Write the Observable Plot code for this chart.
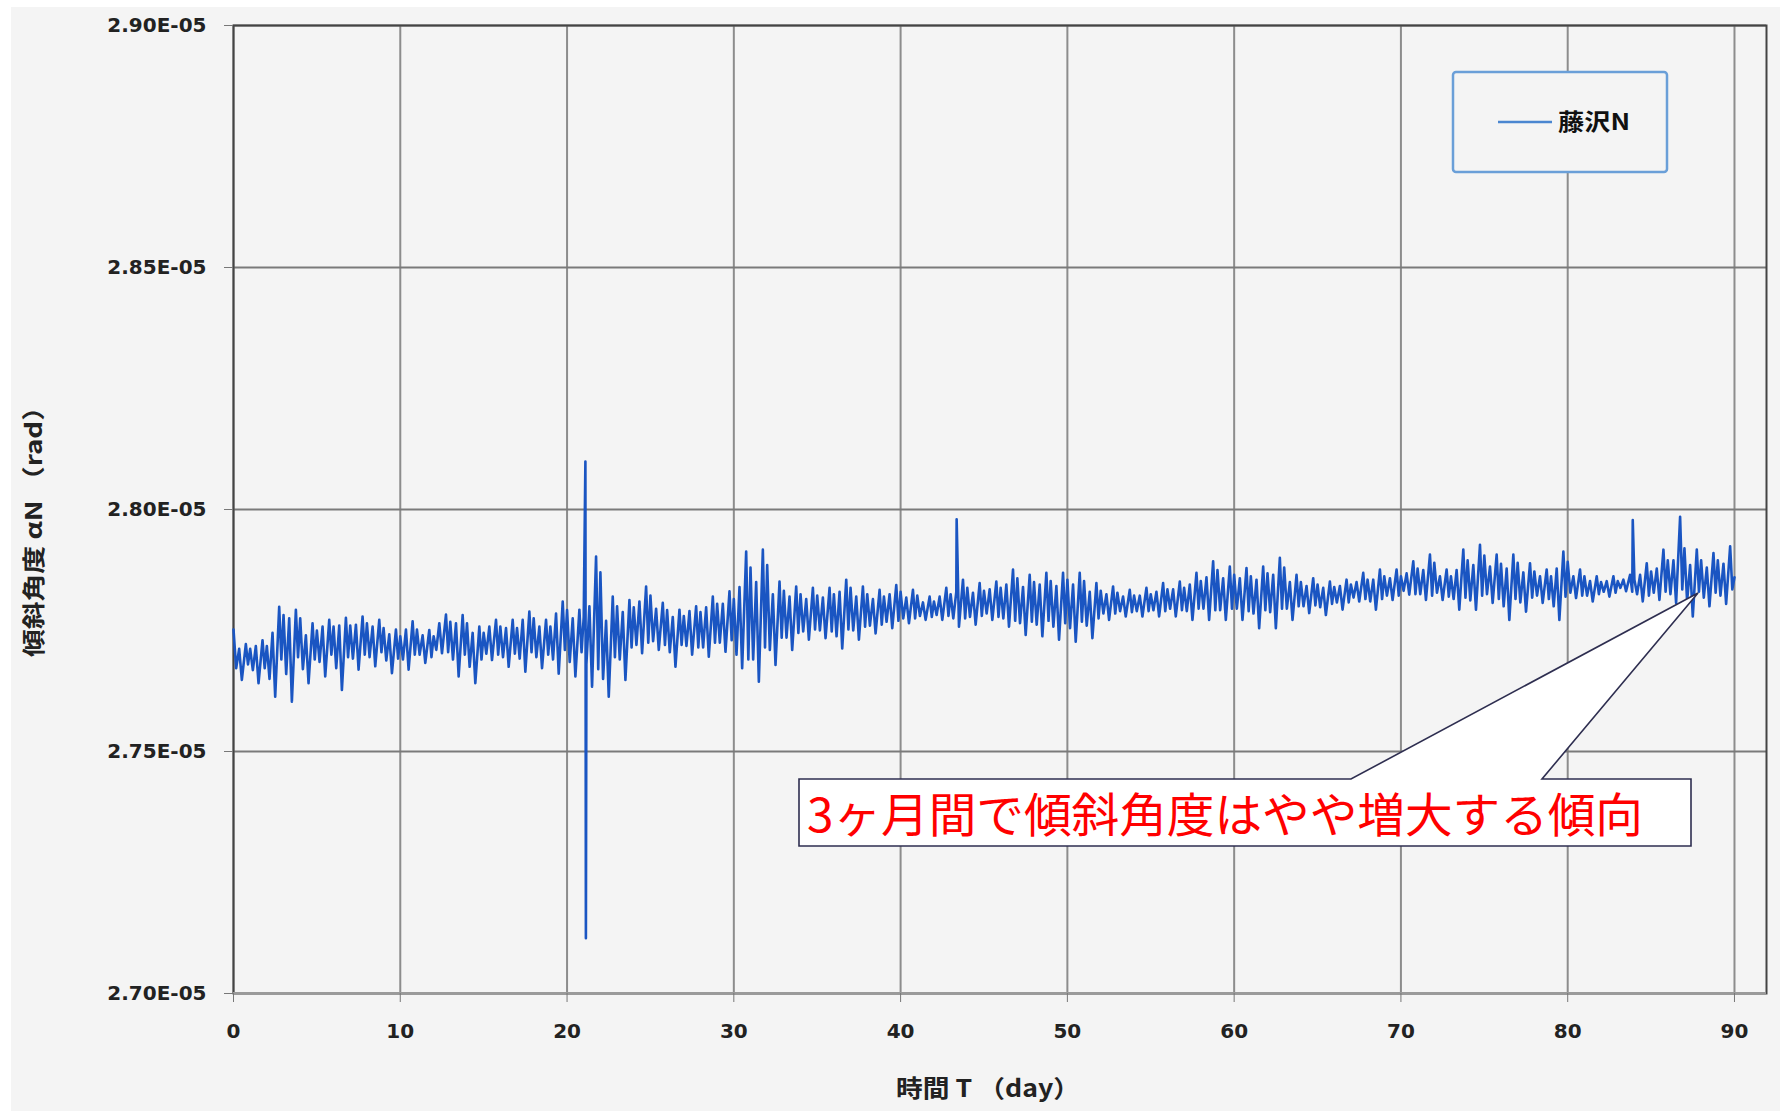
<!DOCTYPE html>
<html>
<head>
<meta charset="utf-8">
<script src="https://cdn.jsdelivr.net/npm/d3@7"></script>
<script src="https://cdn.jsdelivr.net/npm/@observablehq/plot@0.6"></script>
<style>
  html, body { margin: 0; padding: 0; background: #ffffff; }
  #wrap { position: relative; width: 1780px; height: 1111px; overflow: hidden; background: #ffffff; }
  #bg { position: absolute; left: 11px; top: 7px; right: 0; bottom: 0; background: #f4f4f4; }
  #chart { position: absolute; left: 0; top: 0; }
  #overlay { position: absolute; left: 0; top: 0; }
  .cjk { font-family: "Noto Sans CJK JP", "DejaVu Sans", sans-serif; }
</style>
</head>
<body>
<div id="wrap">
  <div id="bg"></div>
  <div id="chart"></div>
  <svg id="overlay" width="1780" height="1111" xmlns="http://www.w3.org/2000/svg"></svg>
</div>
<script>
// ---- Data (values in units of 1E-05 rad) ----
const seriesName = "藤沢N";
const xTicks = [0, 10, 20, 30, 40, 50, 60, 70, 80, 90];
const yTicks = [2.70, 2.75, 2.80, 2.85, 2.90];
const xTitle = "時間 T （day）";
const yTitle = "傾斜角度 αN （rad）";
const note = "3ヶ月間で傾斜角度はやや増大する傾向";

// per-day readings (day 0 .. 89), six readings per day
const dayStart = [
  2.7752, 2.7712, 2.7718, 2.7782, 2.7775, 2.7750, 2.7758, 2.7760, 2.7765, 2.7755,
  2.7738, 2.7752, 2.7738, 2.7768, 2.7765, 2.7745, 2.7758, 2.7755, 2.7775, 2.7758,
  2.7792, 2.7778, 2.7870, 2.7800, 2.7798, 2.7822, 2.7792, 2.7780, 2.7788, 2.7805,
  2.7815, 2.7880, 2.7885, 2.7832, 2.7825, 2.7822, 2.7825, 2.7838, 2.7825, 2.7820,
  2.7830, 2.7822, 2.7810, 2.7825, 2.7838, 2.7832, 2.7838, 2.7858, 2.7850, 2.7852,
  2.7855, 2.7852, 2.7832, 2.7828, 2.7822, 2.7825, 2.7835, 2.7838, 2.7852, 2.7875,
  2.7865, 2.7862, 2.7868, 2.7880, 2.7850, 2.7845, 2.7840, 2.7845, 2.7855, 2.7862,
  2.7862, 2.7878, 2.7890, 2.7862, 2.7895, 2.7905, 2.7888, 2.7890, 2.7872, 2.7862,
  2.7892, 2.7862, 2.7850, 2.7852, 2.7855, 2.7872, 2.7895, 2.7920, 2.7895, 2.7895
];
const morningLow = [
  2.7672, 2.7668, 2.7650, 2.7660, 2.7670, 2.7685, 2.7672, 2.7692, 2.7695, 2.7688,
  2.7690, 2.7700, 2.7710, 2.7690, 2.7675, 2.7702, 2.7695, 2.7692, 2.7695, 2.7690,
  2.7685, 2.7680, 2.7650, 2.7690, 2.7720, 2.7728, 2.7705, 2.7718, 2.7715, 2.7725,
  2.7700, 2.7690, 2.7710, 2.7735, 2.7748, 2.7750, 2.7738, 2.7750, 2.7760, 2.7768,
  2.7775, 2.7780, 2.7782, 2.7775, 2.7778, 2.7785, 2.7775, 2.7765, 2.7762, 2.7758,
  2.7755, 2.7760, 2.7785, 2.7790, 2.7790, 2.7792, 2.7795, 2.7790, 2.7795, 2.7792,
  2.7795, 2.7785, 2.7788, 2.7795, 2.7800, 2.7798, 2.7808, 2.7818, 2.7810, 2.7822,
  2.7832, 2.7825, 2.7828, 2.7815, 2.7812, 2.7825, 2.7800, 2.7808, 2.7822, 2.7800,
  2.7828, 2.7822, 2.7830, 2.7838, 2.7825, 2.7828, 2.7825, 2.7810, 2.7818, 2.7822
];
const preDip = [
  2.7712, 2.7718, 2.7745, 2.7775, 2.7740, 2.7758, 2.7760, 2.7762, 2.7758, 2.7742,
  2.7752, 2.7740, 2.7765, 2.7765, 2.7745, 2.7758, 2.7755, 2.7772, 2.7758, 2.7785,
  2.7775, 2.7800, 2.7770, 2.7788, 2.7810, 2.7795, 2.7778, 2.7790, 2.7798, 2.7805,
  2.7840, 2.7850, 2.7825, 2.7820, 2.7815, 2.7818, 2.7830, 2.7820, 2.7815, 2.7825,
  2.7818, 2.7808, 2.7820, 2.7830, 2.7828, 2.7835, 2.7845, 2.7840, 2.7845, 2.7842,
  2.7845, 2.7830, 2.7825, 2.7820, 2.7822, 2.7830, 2.7835, 2.7845, 2.7860, 2.7858,
  2.7858, 2.7855, 2.7865, 2.7850, 2.7842, 2.7838, 2.7842, 2.7850, 2.7855, 2.7858,
  2.7868, 2.7875, 2.7862, 2.7875, 2.7885, 2.7882, 2.7878, 2.7870, 2.7862, 2.7878,
  2.7862, 2.7852, 2.7852, 2.7855, 2.7865, 2.7878, 2.7895, 2.7885, 2.7880, 2.7888
];
const dailyLow = [
  2.7648, 2.7641, 2.7613, 2.7603, 2.7641, 2.7655, 2.7627, 2.7669, 2.7676, 2.7662,
  2.7669, 2.7683, 2.7703, 2.7655, 2.7641, 2.7689, 2.7675, 2.7665, 2.7672, 2.7661,
  2.7655, 2.7634, 2.7613, 2.7648, 2.7703, 2.7710, 2.7675, 2.7700, 2.7696, 2.7706,
  2.7672, 2.7644, 2.7679, 2.7710, 2.7731, 2.7734, 2.7713, 2.7731, 2.7744, 2.7755,
  2.7765, 2.7772, 2.7772, 2.7758, 2.7762, 2.7772, 2.7758, 2.7741, 2.7738, 2.7731,
  2.7727, 2.7734, 2.7772, 2.7779, 2.7779, 2.7779, 2.7779, 2.7772, 2.7772, 2.7772,
  2.7772, 2.7755, 2.7755, 2.7772, 2.7786, 2.7782, 2.7793, 2.7810, 2.7793, 2.7813,
  2.7824, 2.7813, 2.7813, 2.7793, 2.7793, 2.7807, 2.7772, 2.7789, 2.7807, 2.7772,
  2.7817, 2.7810, 2.7820, 2.7831, 2.7810, 2.7813, 2.7807, 2.7779, 2.7800, 2.7805
];
const dailyHigh = [
  2.7722, 2.7730, 2.7799, 2.7793, 2.7765, 2.7772, 2.7776, 2.7779, 2.7772, 2.7752,
  2.7769, 2.7751, 2.7783, 2.7782, 2.7758, 2.7772, 2.7772, 2.7789, 2.7772, 2.7810,
  2.7793, 2.7903, 2.7820, 2.7813, 2.7841, 2.7807, 2.7793, 2.7800, 2.7820, 2.7831,
  2.7913, 2.7917, 2.7851, 2.7841, 2.7838, 2.7838, 2.7855, 2.7841, 2.7834, 2.7844,
  2.7834, 2.7820, 2.7838, 2.7855, 2.7848, 2.7851, 2.7876, 2.7865, 2.7869, 2.7869,
  2.7869, 2.7848, 2.7841, 2.7834, 2.7838, 2.7848, 2.7851, 2.7869, 2.7893, 2.7882,
  2.7879, 2.7882, 2.7900, 2.7865, 2.7858, 2.7851, 2.7855, 2.7869, 2.7876, 2.7876,
  2.7893, 2.7907, 2.7876, 2.7917, 2.7927, 2.7907, 2.7907, 2.7889, 2.7876, 2.7913,
  2.7876, 2.7862, 2.7862, 2.7865, 2.7889, 2.7917, 2.7985, 2.7917, 2.7910, 2.7924
];
const eveningLow = [
  2.7680, 2.7672, 2.7690, 2.7695, 2.7690, 2.7700, 2.7695, 2.7700, 2.7705, 2.7692,
  2.7700, 2.7695, 2.7705, 2.7700, 2.7690, 2.7700, 2.7702, 2.7705, 2.7700, 2.7710,
  2.7705, 2.7670, 2.7695, 2.7715, 2.7725, 2.7720, 2.7720, 2.7715, 2.7725, 2.7730,
  2.7690, 2.7715, 2.7735, 2.7745, 2.7752, 2.7748, 2.7752, 2.7758, 2.7762, 2.7770,
  2.7775, 2.7778, 2.7780, 2.7775, 2.7780, 2.7778, 2.7770, 2.7768, 2.7770, 2.7765,
  2.7768, 2.7775, 2.7785, 2.7788, 2.7790, 2.7790, 2.7792, 2.7795, 2.7792, 2.7795,
  2.7790, 2.7792, 2.7795, 2.7800, 2.7802, 2.7805, 2.7808, 2.7815, 2.7815, 2.7822,
  2.7825, 2.7822, 2.7820, 2.7818, 2.7822, 2.7815, 2.7815, 2.7818, 2.7815, 2.7820,
  2.7822, 2.7825, 2.7828, 2.7830, 2.7822, 2.7830, 2.7835, 2.7830, 2.7828, 2.7835
];
// isolated spikes: [day, value]
const spikes = [[21.10, 2.8099], [21.13, 2.7114], [43.36, 2.7980], [83.90, 2.7978]];
const lastPoint = [90, 2.7860];

// ---- Build table ----
const readings = [dayStart, morningLow, preDip, dailyLow, dailyHigh, eveningLow];
const offsets = [0.00, 0.16, 0.34, 0.50, 0.74, 0.87];
const series = [];
dailyLow.forEach((_, i) => {
  readings.forEach((arr, k) => series.push({t: i + offsets[k], v: arr[i]}));
});
spikes.forEach(([t, v]) => series.push({t, v}));
series.push({t: lastPoint[0], v: lastPoint[1]});
series.sort((a, b) => a.t - b.t);

const W = 1780, H = 1111;
const chart = Plot.plot({
  width: W, height: H,
  marginLeft: 233, marginRight: 14, marginTop: 25, marginBottom: 118,
  style: {background: "transparent", fontFamily: "'DejaVu Sans', sans-serif", fontSize: "20px", color: "#222"},
  x: {domain: [0, 91.92]},
  y: {domain: [2.70, 2.90]},
  marks: [
    Plot.gridX(xTicks, {stroke: "#8c8c8c", strokeOpacity: 1, strokeWidth: 2}),
    Plot.gridY(yTicks, {stroke: "#7a7a7a", strokeOpacity: 1, strokeWidth: 2}),
    Plot.frame({stroke: "#444", strokeWidth: 2}),
    Plot.ruleY([yTicks[0]], {stroke: "#9a9a9a", strokeWidth: 3}),
    Plot.axisX(xTicks, {tickSize: 9, tickPadding: 21, fontWeight: "bold", fontSize: 20, label: null, stroke: "#777", fill: "#222"}),
    Plot.axisY(yTicks, {tickSize: 9, tickPadding: 18, fontWeight: "bold", fontSize: 20, label: null, stroke: "#777", fill: "#222",
      tickFormat: d => d.toFixed(2) + "E-05"}),
    Plot.line(series, {x: "t", y: "v", stroke: "#1a55c2", strokeWidth: 2.6})
  ]
});
document.getElementById("chart").appendChild(chart);

// ---- Overlay: titles, legend, callout ----
const svg = d3.select("#overlay");
svg.append("text")
  .attr("class", "cjk")
  .attr("x", 988).attr("y", 1097)
  .attr("text-anchor", "middle")
  .attr("font-size", 24).attr("font-weight", "bold").attr("fill", "#222")
  .attr("textLength", 184).attr("lengthAdjust", "spacingAndGlyphs")
  .text(xTitle);
svg.append("text")
  .attr("class", "cjk")
  .attr("transform", "translate(42,525) rotate(-90)")
  .attr("text-anchor", "middle")
  .attr("font-size", 23).attr("font-weight", "bold").attr("fill", "#222")
  .attr("textLength", 264).attr("lengthAdjust", "spacingAndGlyphs")
  .text(yTitle);

// legend
svg.append("rect").attr("x", 1453).attr("y", 72).attr("width", 214).attr("height", 100)
  .attr("rx", 3).attr("fill", "#f4f4f4").attr("stroke", "#6a9fd8").attr("stroke-width", 2.5);
svg.append("line").attr("x1", 1498).attr("x2", 1552).attr("y1", 122).attr("y2", 122)
  .attr("stroke", "#4a86d0").attr("stroke-width", 2.5);
svg.append("text").attr("class", "cjk").attr("x", 1558).attr("y", 130)
  .attr("font-size", 23).attr("font-weight", "bold").attr("fill", "#111")
  .attr("textLength", 72).attr("lengthAdjust", "spacingAndGlyphs")
  .text(seriesName);

// callout
svg.append("path")
  .attr("d", "M799,779 L1351,779 L1698,593 L1542,779 L1691,779 L1691,846 L799,846 Z")
  .attr("fill", "#ffffff").attr("stroke", "#2e2e50").attr("stroke-width", 1.6);
svg.append("text").attr("class", "cjk").attr("x", 807).attr("y", 832)
  .attr("font-size", 47).attr("fill", "#ff0000")
  .attr("textLength", 836).attr("lengthAdjust", "spacingAndGlyphs")
  .text(note);
</script>
</body>
</html>
